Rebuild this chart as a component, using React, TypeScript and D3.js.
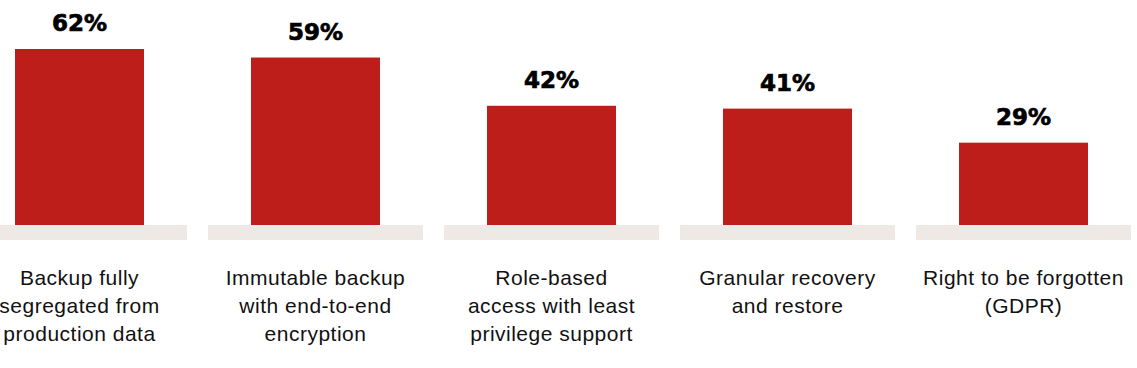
import React from "react";
import * as d3 from "d3";

const categories: string[][] = [
  ["Backup fully", "segregated from", "production data"],
  ["Immutable backup", "with end-to-end", "encryption"],
  ["Role-based", "access with least", "privilege support"],
  ["Granular recovery", "and restore"],
  ["Right to be forgotten", "(GDPR)"],
];
const values: number[] = [62, 59, 42, 41, 29];
const valueLabels: string[] = ["62%", "59%", "42%", "41%", "29%"];

const W = 1137;
const H = 368;
const BASE = 225;
const BAND_H = 15;
const BAR_W = 129;

export default function App() {
  const keys = categories.map((_, i) => String(i));
  const x = d3
    .scaleBand<string>()
    .domain(keys)
    .range([-28, 1131])
    .paddingInner(21 / 236)
    .paddingOuter(0);
  const y = d3.scaleLinear().domain([0, 62]).range([BASE, 49]);

  return (
    <svg
      width={W}
      height={H}
      style={{ position: "absolute", left: 0, top: 0, background: "#fff" }}
    >
      {keys.map((k, i) => {
        const bx = x(k)!;
        const cx = bx + x.bandwidth() / 2;
        const top = y(values[i]);
        return (
          <g key={k}>
            <rect x={bx} y={BASE} width={x.bandwidth()} height={BAND_H} fill="#eee9e4" />
            <rect x={cx - BAR_W / 2} y={top} width={BAR_W} height={BASE - top} fill="#bd1e1a" />
            <text
              x={cx}
              y={top - 18}
              textAnchor="middle"
              fontFamily="'DejaVu Sans', sans-serif"
              fontWeight="bold"
              fontSize={23}
              fill="#000"
              stroke="#000"
              strokeWidth={0.7}
            >
              {valueLabels[i]}
            </text>
            {categories[i].map((line, j) => (
              <text
                key={j}
                x={cx}
                y={285 + j * 28}
                textAnchor="middle"
                fontFamily="'Liberation Sans', Arial, sans-serif"
                fontSize={21}
                letterSpacing={0.5}
                fill="#111"
              >
                {line}
              </text>
            ))}
          </g>
        );
      })}
    </svg>
  );
}
